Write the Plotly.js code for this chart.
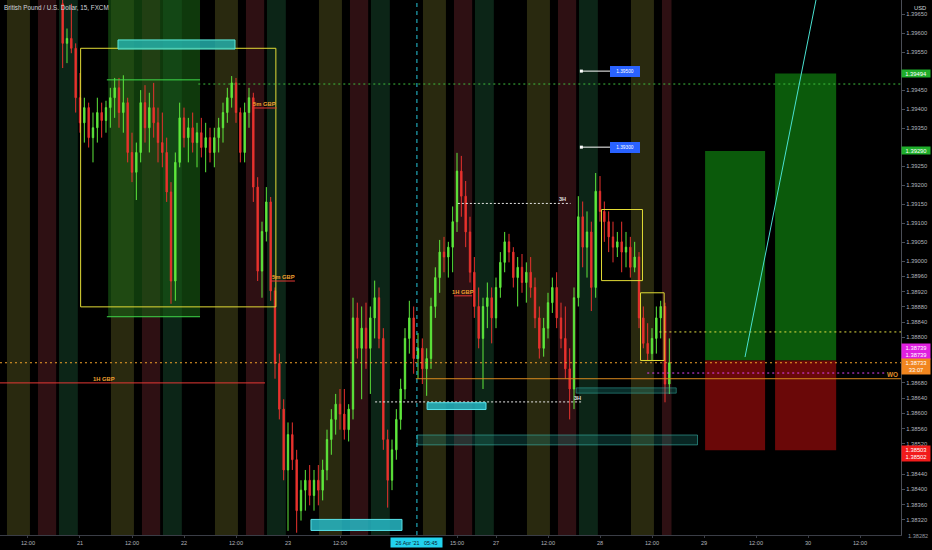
<!DOCTYPE html>
<html><head><meta charset="utf-8">
<script src="https://cdn.plot.ly/plotly-3.0.1.min.js"></script>
<style>html,body{margin:0;padding:0;background:#000;}#chart{width:932px;height:550px;}</style>
</head><body><div id="chart"></div>
<script>
// ---- DATA (hourly bars on trading-time axis: hours since 20 Apr 00:00, weekend removed) ----
const startHour = 20;
const open = [
1.39677,1.39573,1.39586,1.39560,1.39430,1.39364,1.39404,1.39325,1.39351,1.39391,
1.39370,1.39404,1.39430,1.39456,1.39391,1.39417,1.39286,1.39234,1.39286,1.39417,
1.39351,1.39404,1.39364,1.39312,1.39286,1.39182,1.38948,1.39260,1.39377,1.39325,
1.39351,1.39312,1.39338,1.39299,1.39325,1.39286,1.39325,1.39351,1.39391,1.39430,
1.39469,1.39391,1.39286,1.39391,1.39430,1.39195,1.38974,1.39078,1.39156,1.38922,
1.38731,1.38611,1.38451,1.38544,1.38478,1.38344,1.38398,1.38424,1.38384,1.38424,
1.38398,1.38451,1.38531,1.38584,1.38624,1.38598,1.38557,1.38611,1.38851,1.38771,
1.38824,1.38771,1.38851,1.38904,1.38797,1.38531,1.38424,1.38504,1.38584,1.38664,
1.38797,1.38851,1.38744,1.38771,1.38717,1.38744,1.38881,1.38957,1.39024,1.39011,
1.39037,1.39104,1.39237,1.39171,1.39077,1.38971,1.38881,1.38797,1.38881,1.38904,
1.38851,1.38931,1.38997,1.39051,1.39024,1.38957,1.38984,1.38944,1.38971,1.38931,
1.38851,1.38771,1.38824,1.38891,1.38931,1.38851,1.38797,1.38717,1.38664,1.38904,
1.39117,1.39037,1.39077,1.38931,1.39184,1.39131,1.39104,1.39064,1.39037,1.39051,
1.39024,1.39037,1.38984,1.39011,1.38851,1.38784,1.38757,1.38797,1.38851,1.38881,
1.38677];
const high = [
1.39700,1.39612,1.39677,1.39573,1.39495,1.39430,1.39417,1.39391,1.39430,1.39417,
1.39422,1.39456,1.39482,1.39482,1.39489,1.39430,1.39338,1.39312,1.39450,1.39463,
1.39443,1.39469,1.39404,1.39391,1.39325,1.39208,1.39286,1.39417,1.39404,1.39377,
1.39391,1.39364,1.39377,1.39364,1.39351,1.39351,1.39377,1.39417,1.39456,1.39487,
1.39482,1.39404,1.39417,1.39456,1.39443,1.39221,1.39104,1.39195,1.39169,1.38931,
1.38757,1.38637,1.38576,1.38576,1.38504,1.38424,1.38451,1.38464,1.38451,1.38464,
1.38478,1.38557,1.38611,1.38651,1.38664,1.38664,1.38624,1.38904,1.38891,1.38881,
1.38891,1.38881,1.38949,1.38931,1.38824,1.38557,1.38531,1.38611,1.38691,1.38824,
1.38896,1.38881,1.38811,1.38797,1.38771,1.38904,1.38984,1.39056,1.39064,1.39051,
1.39144,1.39285,1.39277,1.39211,1.39117,1.39011,1.38931,1.38904,1.38944,1.38931,
1.38957,1.39024,1.39077,1.39072,1.39037,1.39011,1.39019,1.38997,1.39011,1.38957,
1.38881,1.38851,1.38917,1.38957,1.38971,1.38891,1.38881,1.38771,1.38931,1.39171,
1.39157,1.39131,1.39104,1.39232,1.39224,1.39157,1.39131,1.39104,1.39077,1.39104,
1.39077,1.39064,1.39051,1.39024,1.38881,1.38837,1.38824,1.38881,1.38896,1.38891,
1.38797];
const low = [
1.39508,1.39521,1.39547,1.39391,1.39338,1.39312,1.39299,1.39260,1.39312,1.39325,
1.39338,1.39351,1.39377,1.39351,1.39338,1.39260,1.39208,1.39161,1.39260,1.39312,
1.39286,1.39325,1.39260,1.39247,1.39156,1.38888,1.38896,1.39247,1.39299,1.39260,
1.39286,1.39247,1.39273,1.39234,1.39260,1.39247,1.39286,1.39312,1.39364,1.39404,
1.39364,1.39260,1.39260,1.39351,1.39156,1.38948,1.38904,1.39052,1.38896,1.38691,
1.38584,1.38424,1.38291,1.38451,1.38286,1.38318,1.38344,1.38358,1.38344,1.38358,
1.38371,1.38424,1.38491,1.38544,1.38557,1.38531,1.38526,1.38584,1.38744,1.38637,
1.38717,1.38651,1.38797,1.38771,1.38504,1.38352,1.38398,1.38478,1.38557,1.38637,
1.38757,1.38704,1.38691,1.38677,1.38646,1.38717,1.38851,1.38917,1.38971,1.38957,
1.38971,1.39077,1.39117,1.39037,1.38944,1.38851,1.38771,1.38664,1.38824,1.38784,
1.38824,1.38904,1.38971,1.38997,1.38931,1.38881,1.38917,1.38891,1.38904,1.38824,
1.38744,1.38749,1.38797,1.38864,1.38824,1.38771,1.38691,1.38584,1.38611,1.38881,
1.38984,1.38957,1.38869,1.38904,1.39104,1.39051,1.39024,1.38997,1.39011,1.38971,
1.38984,1.38957,1.38971,1.38824,1.38771,1.38739,1.38739,1.38757,1.38797,1.38629,
1.38651];
const close = [
1.39573,1.39586,1.39560,1.39430,1.39364,1.39404,1.39325,1.39351,1.39391,1.39370,
1.39404,1.39430,1.39456,1.39391,1.39417,1.39286,1.39234,1.39286,1.39417,1.39351,
1.39404,1.39364,1.39312,1.39286,1.39182,1.38948,1.39260,1.39377,1.39325,1.39351,
1.39312,1.39338,1.39299,1.39325,1.39286,1.39325,1.39351,1.39391,1.39430,1.39469,
1.39391,1.39286,1.39391,1.39430,1.39195,1.38974,1.39078,1.39156,1.38922,1.38731,
1.38611,1.38451,1.38544,1.38478,1.38344,1.38398,1.38424,1.38384,1.38424,1.38398,
1.38451,1.38531,1.38584,1.38624,1.38598,1.38557,1.38611,1.38851,1.38771,1.38824,
1.38771,1.38851,1.38904,1.38797,1.38531,1.38424,1.38504,1.38584,1.38664,1.38797,
1.38851,1.38744,1.38771,1.38717,1.38744,1.38881,1.38957,1.39024,1.39011,1.39037,
1.39104,1.39237,1.39171,1.39077,1.38971,1.38881,1.38797,1.38881,1.38904,1.38851,
1.38931,1.38997,1.39051,1.39024,1.38957,1.38984,1.38944,1.38971,1.38931,1.38851,
1.38771,1.38824,1.38891,1.38931,1.38851,1.38797,1.38717,1.38664,1.38904,1.39117,
1.39037,1.39077,1.38931,1.39184,1.39131,1.39104,1.39064,1.39037,1.39051,1.39024,
1.39037,1.38984,1.39011,1.38851,1.38784,1.38757,1.38797,1.38851,1.38881,1.38677,
1.38733];
const barHours = open.map((_, i) => startHour + i);

// axis ticks
const timeTicks  = [12,24,36,48,60,72,84,111,120,132,144,156,168,180,192,204];
const timeLabels = ['12:00','21','12:00','22','12:00','23','12:00','15:00','27','12:00','28','12:00','29','12:00','30','12:00'];
const priceTicks = [1.3965,1.396,1.3955,1.3945,1.394,1.3935,1.3925,1.392,1.3915,1.391,1.3905,1.39,
                    1.3896,1.3892,1.3888,1.3884,1.388,1.3868,1.3864,1.386,1.3856,1.3852,1.3844,1.384,1.3836,1.3832];
const priceLabels = priceTicks.map(v => v.toFixed(5));

// session backgrounds
const dayStarts = [0,24,48,72,96,120,144];
const sessions = [
  {from:7.15, to:12.45, color:'#29290f'},
  {from:14.3, to:18.5,  color:'#2e1013'},
  {from:19.15,to:23.5,  color:'#0c2517'}
];
const lastBarEnd = 160.5;

// drawing levels (price) and spans (hours)
const lastPrice = 1.38733;
const entry = 1.38739, stopLevel = 1.38503, targets = [1.39290, 1.39494];
const positionSpans = [[168.25,182.1],[184.4,198.5]];
const alertLevels = [1.39500, 1.39300];

const X0 = 5.54, X1 = 213.46, Y0 = 1.38280, Y1 = 1.39687;

const shapes = [];
dayStarts.forEach(d => sessions.forEach(s => {
  const a = d + s.from, b = Math.min(d + s.to, lastBarEnd);
  if (b > a) shapes.push({type:'rect', xref:'x', yref:'paper', x0:a, x1:b, y0:0, y1:1,
    fillcolor:s.color, line:{width:0}, layer:'below'});
}));
// green range overlay
shapes.push({type:'rect', xref:'x', yref:'y', x0:30.5, x1:51.7, y0:1.38854, y1:Y1,
  fillcolor:'rgba(25,95,20,0.6)', line:{width:0}, layer:'below'});
// position tool
positionSpans.forEach((sp, i) => {
  shapes.push({type:'rect', x0:sp[0], x1:sp[1], y0:entry, y1:targets[i], fillcolor:'#0b5a0b', line:{width:0}, layer:'below'});
  shapes.push({type:'rect', x0:sp[0], x1:sp[1], y0:stopLevel, y1:entry, fillcolor:'#6a0808', line:{width:0}, layer:'below'});
});
function hline(y, x0, x1, color, dash, w) {
  shapes.push({type:'line', xref:'x', yref:'y', x0, x1, y0:y, y1:y, line:{color, width:w||1, dash:dash||'solid'}});
}
function box(x0, x1, y0, y1, line, fill) {
  shapes.push({type:'rect', xref:'x', yref:'y', x0, x1, y0, y1, line:{color:line, width:1}, fillcolor:fill||'rgba(0,0,0,0)'});
}
// range box and its lines
box(24.15, 69.2, 1.38880, 1.39560, '#e2dc36');
box(32.77, 59.77, 1.39558, 1.39582, '#5ae8d8', 'rgba(38,184,180,0.8)');
hline(1.39477, 30.2, 51.7, '#3fd94a');
hline(1.38854, 30.2, 51.7, '#3fd94a');
hline(1.39466, 51.3, X1, '#3fbf3f', '2px,3px');
// GBP levels
hline(1.39403, 63.7, 69.4, '#e53935');
hline(1.38948, 67.85, 73.6, '#e53935');
hline(1.38680, X0, 66.7, '#e53935');
hline(1.38909, 110.3, 114.5, '#e53935');
// 3H levels
hline(1.39152, 111.2, 137.2, '#e6e6e6', '2px,2px');
hline(1.38630, 92.1, 140.1, '#e6e6e6', '2px,2px');
// other levels
hline(lastPrice, X0, X1, '#f0a02a', '2px,3px');
hline(1.38814, 157.7, X1, '#e6e040', '2px,3px');
hline(1.38706, 154.9, 210.0, '#e040fb', '2px,3px');
hline(1.38691, 101.5, X1, '#d98a1f');
// zones
box(101.8, 166.5, 1.38517, 1.38543, 'rgba(60,190,180,0.55)', 'rgba(30,150,140,0.25)');
box(138.5, 161.6, 1.38653, 1.38667, 'rgba(60,190,180,0.45)', 'rgba(30,150,140,0.3)');
box(104.1, 117.7, 1.38610, 1.38628, '#59e3ea', 'rgba(39,185,198,0.85)');
box(77.3, 98.3, 1.38292, 1.38321, '#59e3ea', 'rgba(39,185,198,0.85)');
// consolidation boxes
box(144.35, 153.8, 1.38949, 1.39136, '#e2dc36');
box(153.35, 158.8, 1.38739, 1.38917, '#e2dc36');
// crosshair
shapes.push({type:'line', xref:'x', yref:'paper', x0:101.75, x1:101.75, y0:0, y1:1, line:{color:'#26c6da', width:1, dash:'4px,4px'}});
// projection line
shapes.push({type:'line', xref:'x', yref:'y', x0:177.46, y0:1.38748, x1:194.26, y1:1.39711, line:{color:'#49e0d0', width:1}});
// alert lines
alertLevels.forEach(v => hline(v, 139.7, 146.4, '#ffffff'));

const F = 'Liberation Sans, Arial, sans-serif';
const ann = [];
function label(x, y, text, color, size, bold) {
  ann.push({xref:'x', yref:'y', x, y, text: bold ? '<b>'+text+'</b>' : text, showarrow:false,
    yanchor:'bottom', xanchor:'center', borderpad:0, font:{family:F, size:size, color}});
}
label(66.58, 1.39403, '5m GBP', '#f0a030', 5.8, true);
label(70.96, 1.38948, '5m GBP', '#f0a030', 5.8, true);
label(29.65, 1.38680, '1H GBP', '#f0a030', 5.8, true);
label(112.27, 1.38909, '1H GBP', '#f0a030', 5.8, true);
label(135.46, 1.39152, '3H', '#e0e0e0', 5.6, true);
label(138.9, 1.38630, '3H', '#e0e0e0', 5.6, true);
label(211.6, 1.38691, 'WO', '#e0902a', 6.4, true);
// alert tags
alertLevels.forEach(v => ann.push({xref:'x', yref:'y', x:149.7, y:v, text:v.toFixed(5), showarrow:false,
  bgcolor:'#2962ff', bordercolor:'#2962ff', borderpad:2, width:24, font:{family:F, size:4.8, color:'#ffffff'}}));
// right axis tags
const axisTags = [
  {price:1.39494, text:'1.39494', bg:'#1fae2b', shift:0},
  {price:1.39290, text:'1.39290', bg:'#1fae2b', shift:0},
  {price:1.38739, text:'1.38739<br>1.38739', bg:'#e01fe0', shift:9},
  {price:1.38733, text:'1.38733<br>33:07', bg:'#f2861e', shift:-4},
  {price:1.38503, text:'1.38503<br>1.38502', bg:'#f21b1b', shift:-3}
];
axisTags.forEach(t => ann.push({xref:'paper', yref:'y', x:1, xanchor:'left', y:t.price, yshift:t.shift,
  text:t.text, showarrow:false, bgcolor:t.bg, borderpad:0.6, width:27, align:'center',
  font:{family:F, size:5.8, color:'#ffffff'}}));
// crosshair time tag
ann.push({xref:'x', yref:'paper', x:101.75, y:0, yanchor:'top', yshift:-2, text:"26 Apr '21&nbsp;&nbsp;&nbsp;05:45",
  showarrow:false, bgcolor:'#22d3ee', borderpad:1.5, width:48, font:{family:F, size:5.4, color:'#0b1a2a'}});
ann.push({xref:'paper', yref:'paper', x:1, y:1, xanchor:'left', yanchor:'top', xshift:11, yshift:-3, text:'USD',
  showarrow:false, font:{family:F, size:5.8, color:'#d1d4dc'}});
ann.push({xref:'paper', yref:'paper', x:1, y:0, xanchor:'left', yanchor:'middle', xshift:5, yshift:-1, text:'1.38282',
  showarrow:false, font:{family:F, size:5.6, color:'#9598a1'}});

const traces = [
  {type:'candlestick', x:barHours, open, high, low, close,
   increasing:{line:{color:'#5ee83c', width:1}, fillcolor:'#5ee83c'},
   decreasing:{line:{color:'#e8322e', width:1}, fillcolor:'#e8322e'},
   whiskerwidth:0, hoverinfo:'skip'},
  {type:'scatter', mode:'markers', x:[139.7,139.7], y:alertLevels, marker:{symbol:'square', size:3, color:'#ffffff'}, hoverinfo:'skip'}
];

const layout = {
  width:932, height:550, paper_bgcolor:'#000', plot_bgcolor:'#000',
  margin:{l:0, r:31, t:0, b:15}, showlegend:false, boxgap:0.55,
  font:{family:F, color:'#b2b5be'},
  title:{text:'British Pound / U.S. Dollar, 15, FXCM', font:{family:F, size:6.3, color:'#d1d4dc'},
         x:4/932, xanchor:'left', xref:'container', y:1-8/550, yanchor:'middle', yref:'container'},
  xaxis:{range:[X0, X1], tickmode:'array', tickvals:timeTicks, ticktext:timeLabels,
         tickfont:{family:F, size:5.6, color:'#b2b5be'}, showgrid:false, zeroline:false,
         showline:true, linecolor:'#3a3d46', ticks:'outside', ticklen:2, tickcolor:'#3a3d46',
         rangeslider:{visible:false}, fixedrange:true},
  yaxis:{side:'right', range:[Y0, Y1], tickmode:'array', tickvals:priceTicks, ticktext:priceLabels,
         tickfont:{family:F, size:5.8, color:'#b2b5be'}, showgrid:false, zeroline:false,
         showline:true, linecolor:'#4a4d56', ticks:'outside', ticklen:3, tickcolor:'#4a4d56', fixedrange:true},
  shapes, annotations:ann
};
Plotly.newPlot('chart', traces, layout, {displayModeBar:false, staticPlot:true});
</script></body></html>
